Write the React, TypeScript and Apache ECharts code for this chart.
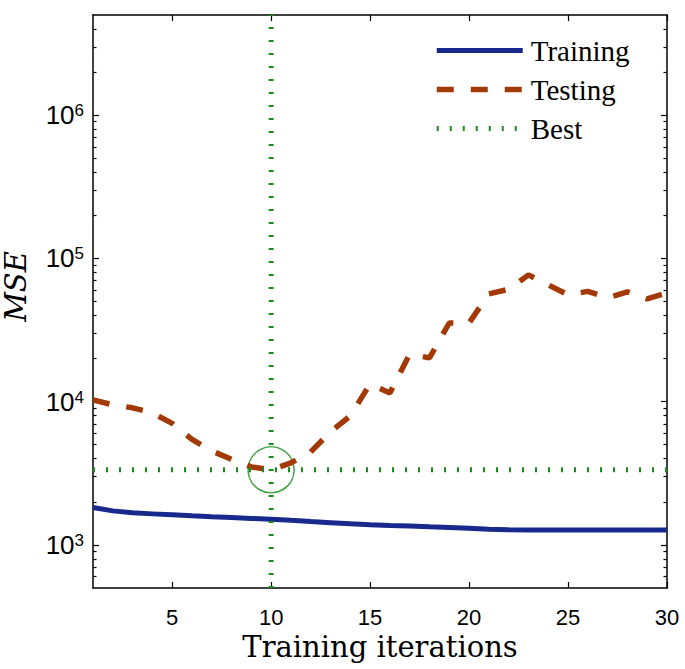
import React, { useEffect, useRef } from 'react';
import * as echarts from 'echarts';

// ---- data ----
const iterations = [1, 2, 3, 4, 5, 6, 7, 8, 9, 10, 11, 12, 13, 14, 15, 16, 17, 18, 19, 20, 21, 22, 23, 24, 25, 26, 27, 28, 29, 30];
const training = [1821, 1727, 1673, 1646, 1620, 1594, 1569, 1551, 1531, 1512, 1483, 1455, 1429, 1402, 1384, 1368, 1353, 1336, 1320, 1304, 1287, 1273, 1272, 1272, 1271, 1271, 1270, 1270, 1269, 1268];
const testing = [10290, 9490, 9050, 8350, 7050, 5450, 4530, 3950, 3500, 3340, 3740, 4460, 6150, 7950, 13300, 11500, 21500, 20200, 35400, 35400, 56500, 60800, 76700, 65300, 55600, 58800, 53000, 58400, 52200, 57400];
const xTicks = [5, 10, 15, 20, 25, 30];
const yMajorTicks = [1000, 10000, 100000, 1000000];
const yMinorTicks = [
  600, 700, 800, 900,
  2000, 3000, 4000, 5000, 6000, 7000, 8000, 9000,
  20000, 30000, 40000, 50000, 60000, 70000, 80000, 90000,
  200000, 300000, 400000, 500000, 600000, 700000, 800000, 900000,
  2000000, 3000000, 4000000,
];
const xMin = 1;
const xMax = 30;
const yMin = 500;
const yMax = 5000000;
const bestIteration = 10;

const BLUE = '#18298e';
const BROWN = '#a33a06';
const GREEN = '#1b8c1b';

export default function App() {
  const ref = useRef<HTMLDivElement>(null);

  useEffect(() => {
    document.body.style.margin = '0';
    const chart = echarts.init(ref.current!, undefined, { renderer: 'svg' });
    const bestValue = testing[iterations.indexOf(bestIteration)];

    const frameLine = { show: true, onZero: false, lineStyle: { color: '#000', width: 1.5 } };
    const tickLine = { color: '#000', width: 1.2 };

    const xBase = (position: string) => ({
      type: 'value',
      min: xMin,
      max: xMax,
      position,
      axisLine: frameLine,
      axisTick: { show: true, inside: true, length: 6, customValues: xTicks, lineStyle: tickLine },
      splitLine: { show: false },
    });

    const yMajor = (position: string) => ({
      type: 'log',
      logBase: 10,
      min: yMin,
      max: yMax,
      position,
      axisLine: frameLine,
      axisTick: { show: true, inside: true, length: 6, customValues: yMajorTicks, lineStyle: tickLine },
      splitLine: { show: false },
      minorSplitLine: { show: false },
    });
    const yMinor = (position: string) => ({
      type: 'log',
      logBase: 10,
      min: yMin,
      max: yMax,
      position,
      axisLine: { show: false },
      axisTick: { show: true, inside: true, length: 3.5, customValues: yMinorTicks, lineStyle: tickLine },
      axisLabel: { show: false },
      splitLine: { show: false },
    });

    const option: any = {
      animation: false,
      grid: { left: 93, right: 18, top: 15, bottom: 81, containLabel: false, outerBoundsMode: 'none' },
      legend: {
        orient: 'vertical',
        left: 434,
        top: 36,
        padding: 0,
        itemWidth: 86,
        itemHeight: 20,
        itemGap: 10,
        selectedMode: false,
        itemStyle: { opacity: 0 },
        textStyle: {
          fontFamily: 'Liberation Serif',
          fontSize: 29,
          color: '#000',
          padding: [0, 0, 0, 3],
        },
        data: [
          { name: 'Training', lineStyle: { width: 5 } },
          { name: 'Testing', lineStyle: { width: 5.5 } },
          { name: 'Best', lineStyle: { width: 5 } },
        ],
      },
      xAxis: [
        {
          ...xBase('bottom'),
          axisLabel: {
            customValues: xTicks,
            margin: 18,
            fontSize: 22,
            fontFamily: 'Liberation Sans',
            color: '#000',
          },
          name: 'Training iterations',
          nameLocation: 'middle',
          nameGap: 31,
          nameTextStyle: { fontFamily: 'DejaVu Serif', fontSize: 29, color: '#000' },
        },
        { ...xBase('top'), axisLabel: { show: false } },
      ],
      yAxis: [
        {
          ...yMajor('left'),
          axisLabel: {
            customValues: yMajorTicks,
            margin: 9,
            formatter: (v: number) => `{b|10}{s|${Math.round(Math.log10(v))}}`,
            rich: {
              b: {
                fontSize: 26,
                lineHeight: 26,
                fontFamily: 'Liberation Sans',
                color: '#000',
                padding: [8, 0, 0, 0],
                verticalAlign: 'bottom',
              },
              s: {
                fontSize: 17,
                lineHeight: 17,
                fontFamily: 'Liberation Sans',
                color: '#000',
                verticalAlign: 'top',
              },
            },
          },
          name: 'MSE',
          nameLocation: 'middle',
          nameGap: 63,
          nameTextStyle: {
            fontFamily: 'DejaVu Serif',
            fontStyle: 'italic',
            fontSize: 29,
            color: '#000',
            padding: [0, 0, 0, 30],
          },
        },
        yMinor('left'),
        { ...yMajor('right'), axisLabel: { show: false } },
        yMinor('right'),
      ],
      series: [
        {
          name: 'Training',
          type: 'line',
          symbol: 'none',
          data: iterations.map((x, i) => [x, training[i]]),
          lineStyle: { color: BLUE, width: 5 },
          itemStyle: { color: BLUE },
        },
        {
          name: 'Testing',
          type: 'line',
          symbol: 'none',
          data: iterations.map((x, i) => [x, testing[i]]),
          lineStyle: { color: BROWN, width: 5.5, type: [17, 17] },
          itemStyle: { color: BROWN },
        },
        {
          name: 'Best',
          type: 'line',
          symbol: 'none',
          data: [[bestIteration, yMin], [bestIteration, yMax]],
          lineStyle: { color: GREEN, width: 5, type: [2, 11] },
          itemStyle: { color: GREEN },
        },
        {
          name: 'Best',
          type: 'line',
          symbol: 'none',
          data: [[xMin, bestValue], [xMax, bestValue]],
          lineStyle: { color: GREEN, width: 5, type: [2, 11] },
          itemStyle: { color: GREEN },
        },
        {
          name: 'Best point',
          type: 'scatter',
          symbol: 'circle',
          symbolSize: 46,
          data: [[bestIteration, bestValue]],
          itemStyle: { color: 'none', borderColor: '#118811', borderWidth: 1.5 },
        },
      ],
    };

    chart.setOption(option);
    return () => chart.dispose();
  }, []);

  return <div ref={ref} style={{ width: 685, height: 669 }} />;
}
